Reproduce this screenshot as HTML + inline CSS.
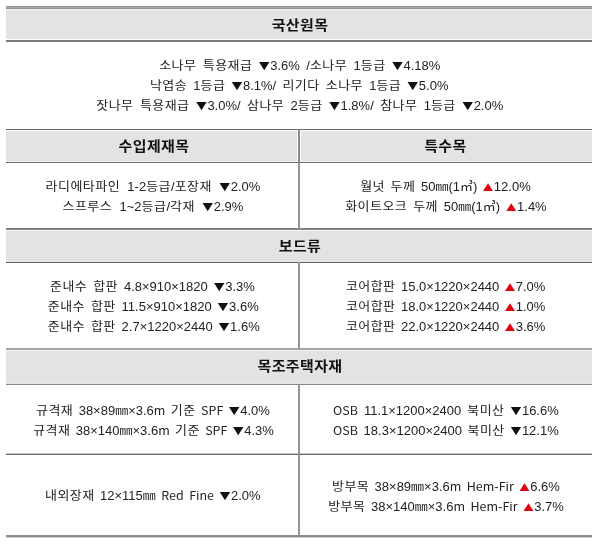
<!DOCTYPE html>
<html><head><meta charset="utf-8">
<style>
html,body{margin:0;padding:0;background:#fff;width:600px;height:544px;overflow:hidden}
body{position:relative;font-family:"Liberation Sans","Noto Sans CJK KR",sans-serif;color:#222}
.hl{position:absolute;left:6px;width:586px}
.bg{position:absolute;background:#e3e3e3}
.vl{position:absolute;left:298px;width:2px;background:#9a9a9a}
.t{position:absolute;white-space:nowrap;font-size:13px;line-height:20px;letter-spacing:0;transform:scaleY(0.92);transform-origin:0 14px}
.h{position:absolute;white-space:nowrap;font-family:"Noto Sans CJK KR",sans-serif;font-size:15px;font-weight:bold;letter-spacing:0.35px;color:#111;text-align:center;line-height:20px;transform:scaleY(0.88);transform-origin:50% 10px}
.k{font-family:"Noto Sans CJK KR",sans-serif;font-size:13px;letter-spacing:0.45px}
.dn{font-family:"Noto Sans CJK KR",sans-serif;font-size:11px;color:#111;margin-right:0.5px;position:relative;top:-0.5px}
.up{font-family:"Noto Sans CJK KR",sans-serif;font-size:10.5px;color:#e3000f;margin-right:0.5px}
.c0{left:6px;width:586px}
.c1{left:6px;width:294px}
.c2{left:300px;width:292px}
.l{font-family:"Noto Sans CJK KR",sans-serif;font-size:12.5px}
</style></head><body>
<!-- backgrounds -->
<div class="bg" style="left:6px;top:10px;width:586px;height:29px"></div>
<div class="bg" style="left:6px;top:131px;width:291px;height:30px"></div>
<div class="bg" style="left:301px;top:131px;width:291px;height:30px"></div>
<div class="bg" style="left:6px;top:231px;width:586px;height:30px"></div>
<div class="bg" style="left:6px;top:351px;width:586px;height:32px"></div>
<!-- lines -->
<div class="hl" style="top:6px;height:1px;background:#939393"></div>
<div class="hl" style="top:7px;height:1px;background:#aaaaaa"></div>
<div class="hl" style="top:8px;height:1px;background:#939393"></div>
<div class="hl" style="top:9px;height:1px;background:#f2f2f2"></div>
<div class="hl" style="top:40px;height:2px;background:#7b7b7b"></div>
<div class="hl" style="top:129px;height:1px;background:#666666"></div>
<div class="hl" style="top:161px;height:1px;background:#f5f5f5"></div>
<div class="hl" style="top:162px;height:1px;background:#6e6e6e"></div>
<div class="hl" style="top:228px;height:1px;background:#7a7a7a"></div>
<div class="hl" style="top:229px;height:1px;background:#8a8a8a"></div>
<div class="hl" style="top:230px;height:1px;background:#f5f5f5"></div>
<div class="hl" style="top:261px;height:1px;background:#e9e9e9"></div>
<div class="hl" style="top:262px;height:1px;background:#666666"></div>
<div class="hl" style="top:348px;height:2px;background:#a6a6a6"></div>
<div class="hl" style="top:350px;height:1px;background:#f2f2f2"></div>
<div class="hl" style="top:383px;height:1px;background:#e8e8e8"></div>
<div class="hl" style="top:384px;height:1px;background:#888888"></div>
<div class="hl" style="top:453px;height:1px;background:#c8c8c8"></div>
<div class="hl" style="top:454px;height:1px;background:#6a6a6a"></div>
<div class="hl" style="top:535px;height:2px;background:#8c8c8c"></div>
<div class="hl" style="top:537px;height:1px;background:#cfcfcf"></div>
<div class="vl" style="top:129px;height:34px;background:#888888"></div>
<div class="vl" style="top:163px;height:66px;background:#959595"></div>
<div class="vl" style="top:262px;height:87px;background:#959595"></div>
<div class="vl" style="top:384px;height:152px;background:#959595"></div>
<!-- headers -->
<div class="h c0" style="top:15px;margin-left:1px">국산원목</div>
<div class="h c1" style="top:136px;margin-left:1px">수입제재목</div>
<div class="h c2" style="top:136px;margin-left:-0.6px">특수목</div>
<div class="h c0" style="top:236px;margin-left:1px">보드류</div>
<div class="h c0" style="top:356px;margin-left:1px">목조주택자재</div>
<!-- body text -->
<div class="t" style="left:159.2px;top:55px;word-spacing:2.74px"><span class="k">소나무</span> <span class="k">특용재급</span> <span class="dn">▼</span>3.6% /<span class="k">소나무</span> 1<span class="k">등급</span> <span class="dn">▼</span>4.18%</div>
<div class="t" style="left:149.9px;top:75px;word-spacing:2.53px"><span class="k">낙엽송</span> 1<span class="k">등급</span> <span class="dn">▼</span>8.1%/ <span class="k">리기다</span> <span class="k">소나무</span> 1<span class="k">등급</span> <span class="dn">▼</span>5.0%</div>
<div class="t" style="left:96.3px;top:95px;word-spacing:2.74px"><span class="k">잣나무</span> <span class="k">특용재급</span> <span class="dn">▼</span>3.0%/ <span class="k">삼나무</span> 2<span class="k">등급</span> <span class="dn">▼</span>1.8%/ <span class="k">참나무</span> 1<span class="k">등급</span> <span class="dn">▼</span>2.0%</div>
<div class="t" style="left:45.6px;top:176px;word-spacing:3.7px"><span class="k">라디에타파인</span> 1-2<span class="k">등급</span>/<span class="k">포장재</span> <span class="dn">▼</span>2.0%</div>
<div class="t" style="left:62.5px;top:196px;word-spacing:3.75px"><span class="k">스프루스</span> 1~2<span class="k">등급</span>/<span class="k">각재</span> <span class="dn">▼</span>2.9%</div>
<div class="t" style="left:360.2px;top:176px;word-spacing:1.93px"><span class="k">월넛</span> <span class="k">두께</span> 50㎜(1㎥) <span class="up">▲</span>12.0%</div>
<div class="t" style="left:345.2px;top:196px;word-spacing:2.26px"><span class="k">화이트오크</span> <span class="k">두께</span> 50㎜(1㎥) <span class="up">▲</span>1.4%</div>
<div class="t" style="left:50.0px;top:276px;word-spacing:2.3px"><span class="k">준내수</span> <span class="k">합판</span> 4.8×910×1820 <span class="dn">▼</span>3.3%</div>
<div class="t" style="left:47.8px;top:296px;word-spacing:2.26px"><span class="k">준내수</span> <span class="k">합판</span> 11.5×910×1820 <span class="dn">▼</span>3.6%</div>
<div class="t" style="left:47.8px;top:316px;word-spacing:2.26px"><span class="k">준내수</span> <span class="k">합판</span> 2.7×1220×2440 <span class="dn">▼</span>1.6%</div>
<div class="t" style="left:345.9px;top:276px;word-spacing:1.85px"><span class="k">코어합판</span> 15.0×1220×2440 <span class="up">▲</span>7.0%</div>
<div class="t" style="left:345.9px;top:296px;word-spacing:1.85px"><span class="k">코어합판</span> 18.0×1220×2440 <span class="up">▲</span>1.0%</div>
<div class="t" style="left:345.9px;top:316px;word-spacing:1.85px"><span class="k">코어합판</span> 22.0×1220×2440 <span class="up">▲</span>3.6%</div>
<div class="t" style="left:36.0px;top:400px;word-spacing:1.8px"><span class="k">규격재</span> 38×89㎜×3.6<span class="l">m</span> <span class="k">기준</span> <span class="l">SPF</span> <span class="dn">▼</span>4.0%</div>
<div class="t" style="left:33.2px;top:420px;word-spacing:1.7px"><span class="k">규격재</span> 38×140㎜×3.6<span class="l">m</span> <span class="k">기준</span> <span class="l">SPF</span> <span class="dn">▼</span>4.3%</div>
<div class="t" style="left:333.0px;top:400px;word-spacing:2.34px"><span class="l">OSB</span> 11.1×1200×2400 <span class="k">북미산</span> <span class="dn">▼</span>16.6%</div>
<div class="t" style="left:333.0px;top:420px;word-spacing:2.01px"><span class="l">OSB</span> 18.3×1200×2400 <span class="k">북미산</span> <span class="dn">▼</span>12.1%</div>
<div class="t" style="left:45.0px;top:485px;word-spacing:1.8px"><span class="k">내외장재</span> 12×115㎜ <span class="l">Red</span> <span class="l">Fine</span> <span class="dn">▼</span>2.0%</div>
<div class="t" style="left:332.0px;top:476px;word-spacing:1.74px"><span class="k">방부목</span> 38×89㎜×3.6<span class="l">m</span> <span class="l">Hem</span>-<span class="l">Fir</span> <span class="up">▲</span>6.6%</div>
<div class="t" style="left:328.2px;top:496px;word-spacing:1.93px"><span class="k">방부목</span> 38×140㎜×3.6<span class="l">m</span> <span class="l">Hem</span>-<span class="l">Fir</span> <span class="up">▲</span>3.7%</div>
</body></html>
